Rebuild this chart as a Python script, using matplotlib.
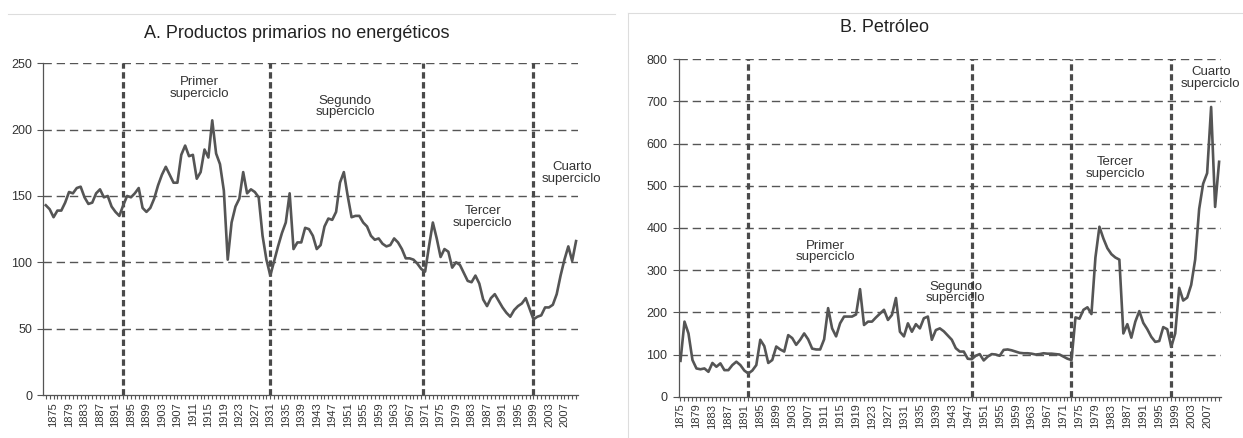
import matplotlib
matplotlib.use('Agg')
import matplotlib.pyplot as plt
from matplotlib.ticker import MultipleLocator, FixedLocator
from matplotlib.lines import Line2D

plt.rcParams['font.family'] = ['Liberation Sans', 'DejaVu Sans']

# A. Productos primarios no energéticos (indice), 1873-2010
years_a = list(range(1873, 2011))
non_energy = [
    143, 140, 134, 139, 139, 145, 153,                      # 1873-1879
    152, 156, 157, 149, 144, 145, 152, 155, 149, 150,       # 1880s
    142, 138, 135, 143, 150, 149, 152, 156, 141, 138,       # 1890s
    141, 148, 158, 166, 172, 166, 160, 160, 181, 188,       # 1900s
    180, 181, 163, 168, 185, 179, 207, 182, 174, 154,       # 1910s
    102, 130, 142, 148, 168, 152, 155, 153, 149, 120,       # 1920s
    102, 90, 101, 112, 122, 130, 152, 110, 115, 115,        # 1930s
    126, 125, 120, 110, 113, 127, 133, 132, 138, 160,       # 1940s
    168, 150, 134, 135, 135, 130, 127, 120, 117, 118,       # 1950s
    114, 112, 113, 118, 115, 110, 103, 103, 102, 99,        # 1960s
    95, 93, 112, 130, 118, 104, 110, 108, 96, 100,          # 1970s
    98, 92, 86, 85, 90, 84, 72, 67, 73, 76,                 # 1980s
    71, 66, 62, 59, 64, 67, 69, 73, 65, 57,                 # 1990s
    59, 60, 66, 66, 68, 76, 90, 102, 112, 101,              # 2000s
    116,                                                    # 2010
]

# B. Petróleo (indice), 1875-2010
years_b = list(range(1875, 2011))
oil = [
    85, 178, 150, 87, 67,                                   # 1875-1879
    65, 67, 59, 80, 71, 79, 63, 63, 75, 83,                 # 1880s
    75, 62, 55, 62, 75, 135, 120, 80, 87, 119,              # 1890s
    112, 107, 146, 139, 123, 135, 150, 136, 114, 112,       # 1900s
    112, 136, 210, 162, 143, 174, 190, 190, 190, 195,       # 1910s
    255, 170, 178, 178, 188, 197, 206, 182, 194, 234,       # 1920s
    154, 143, 174, 154, 172, 162, 186, 190, 135, 158,       # 1930s
    162, 155, 145, 135, 115, 107, 107, 90, 89, 97,          # 1940s
    101, 86, 95, 101, 100, 97, 111, 112, 110, 107,          # 1950s
    104, 103, 103, 102, 100, 101, 103, 102, 102, 101,       # 1960s
    100, 95, 90, 87, 188, 185, 206, 212, 196, 330,          # 1970s
    403, 375, 352, 338, 330, 325, 150, 172, 140, 178,       # 1980s
    203, 175, 160, 142, 130, 132, 165, 160, 118, 150,       # 1990s
    258, 228, 235, 265, 325, 445, 505, 530, 687, 450,       # 2000s
    557,                                                    # 2010
]

# limites de los superciclos
cycles_a = [1893, 1931, 1970.5, 1999]
cycles_b = [1892, 1948, 1973, 1998]
tick_years = list(range(1875, 2008, 4))

W, H = 1243, 438
fig = plt.figure(figsize=(W / 100, H / 100), dpi=100)

def rect(x0, y_top, width, y_bottom):
    return [x0 / W, (H - y_bottom) / H, width / W, (y_bottom - y_top) / H]

ax_a = fig.add_axes(rect(43.3, 63.3, 534.3, 395))
ax_b = fig.add_axes(rect(678.5, 59.3, 542.6, 396.7))

def style(ax, ymax, ystep, xlim):
    ax.set_xlim(*xlim)
    ax.set_ylim(0, ymax)
    for s in ['top', 'right']:
        ax.spines[s].set_visible(False)
    for s in ['left', 'bottom']:
        ax.spines[s].set_color('#555555')
        ax.spines[s].set_linewidth(0.9)
    for y in range(ystep, ymax + 1, ystep):
        ax.axhline(y, color='#555555', lw=1.0, ls=(0, (6, 3.5)), zorder=1)
    ax.set_yticks(range(0, ymax + 1, ystep))
    ax.xaxis.set_major_locator(FixedLocator(tick_years))
    ax.xaxis.set_minor_locator(MultipleLocator(1))
    ax.set_xticklabels([str(y) for y in tick_years], rotation=90)
    ax.tick_params(axis='x', which='both', length=3, width=0.8, color='#555555',
                   labelsize=8, labelcolor='#333333', pad=2)
    ax.tick_params(axis='y', length=4, width=0.8, color='#555555',
                   labelsize=9, labelcolor='#333333', pad=4)

style(ax_a, 250, 50, (1872.35, 2010.4))
style(ax_b, 800, 100, (1874.5, 2010.5))

for ax, cyc in [(ax_a, cycles_a), (ax_b, cycles_b)]:
    for c in cyc:
        ax.axvline(c, color='#4a4a4a', lw=2.3, ls=(0, (2.0, 1.1)), zorder=2)

ax_a.plot(years_a, non_energy, color='#555555', lw=1.9, zorder=3, clip_on=False)
ax_b.plot(years_b, oil, color='#555555', lw=1.9, zorder=3, clip_on=False)

txt = dict(ha='center', va='center', fontsize=9.5, color='#333333',
           linespacing=0.95, clip_on=False)
ax_a.text(1912.6, 231.5, 'Primer\nsuperciclo', **txt)
ax_a.text(1950.3, 217.6, 'Segundo\nsuperciclo', **txt)
ax_a.text(1985.9, 134.3, 'Tercer\nsuperciclo', **txt)
ax_a.text(2008.9, 167.2, 'Cuarto\nsuperciclo', **txt)
ax_b.text(1911.4, 343.8, 'Primer\nsuperciclo', **txt)
ax_b.text(1944.0, 247.0, 'Segundo\nsuperciclo', **txt)
ax_b.text(1983.9, 542.0, 'Tercer\nsuperciclo', **txt)
ax_b.text(2007.9, 755.6, 'Cuarto\nsuperciclo', **txt)

fig.text(297 / W, 1 - 33 / H, 'A. Productos primarios no energéticos',
         ha='center', va='center', fontsize=13, color='#222222')
fig.text(884 / W, 1 - 27 / H, 'B. Petróleo',
         ha='center', va='center', fontsize=13, color='#222222')

# marcos claros de los paneles
frame = dict(color='#dddddd', lw=0.8, transform=fig.transFigure)
fig.add_artist(Line2D([8 / W, 615 / W], [1 - 14 / H, 1 - 14 / H], **frame))
fig.add_artist(Line2D([627.5 / W, 1], [1 - 13 / H, 1 - 13 / H], **frame))
fig.add_artist(Line2D([627.5 / W, 627.5 / W], [0, 1 - 13 / H], **frame))

fig.savefig('out.png', dpi=100)
